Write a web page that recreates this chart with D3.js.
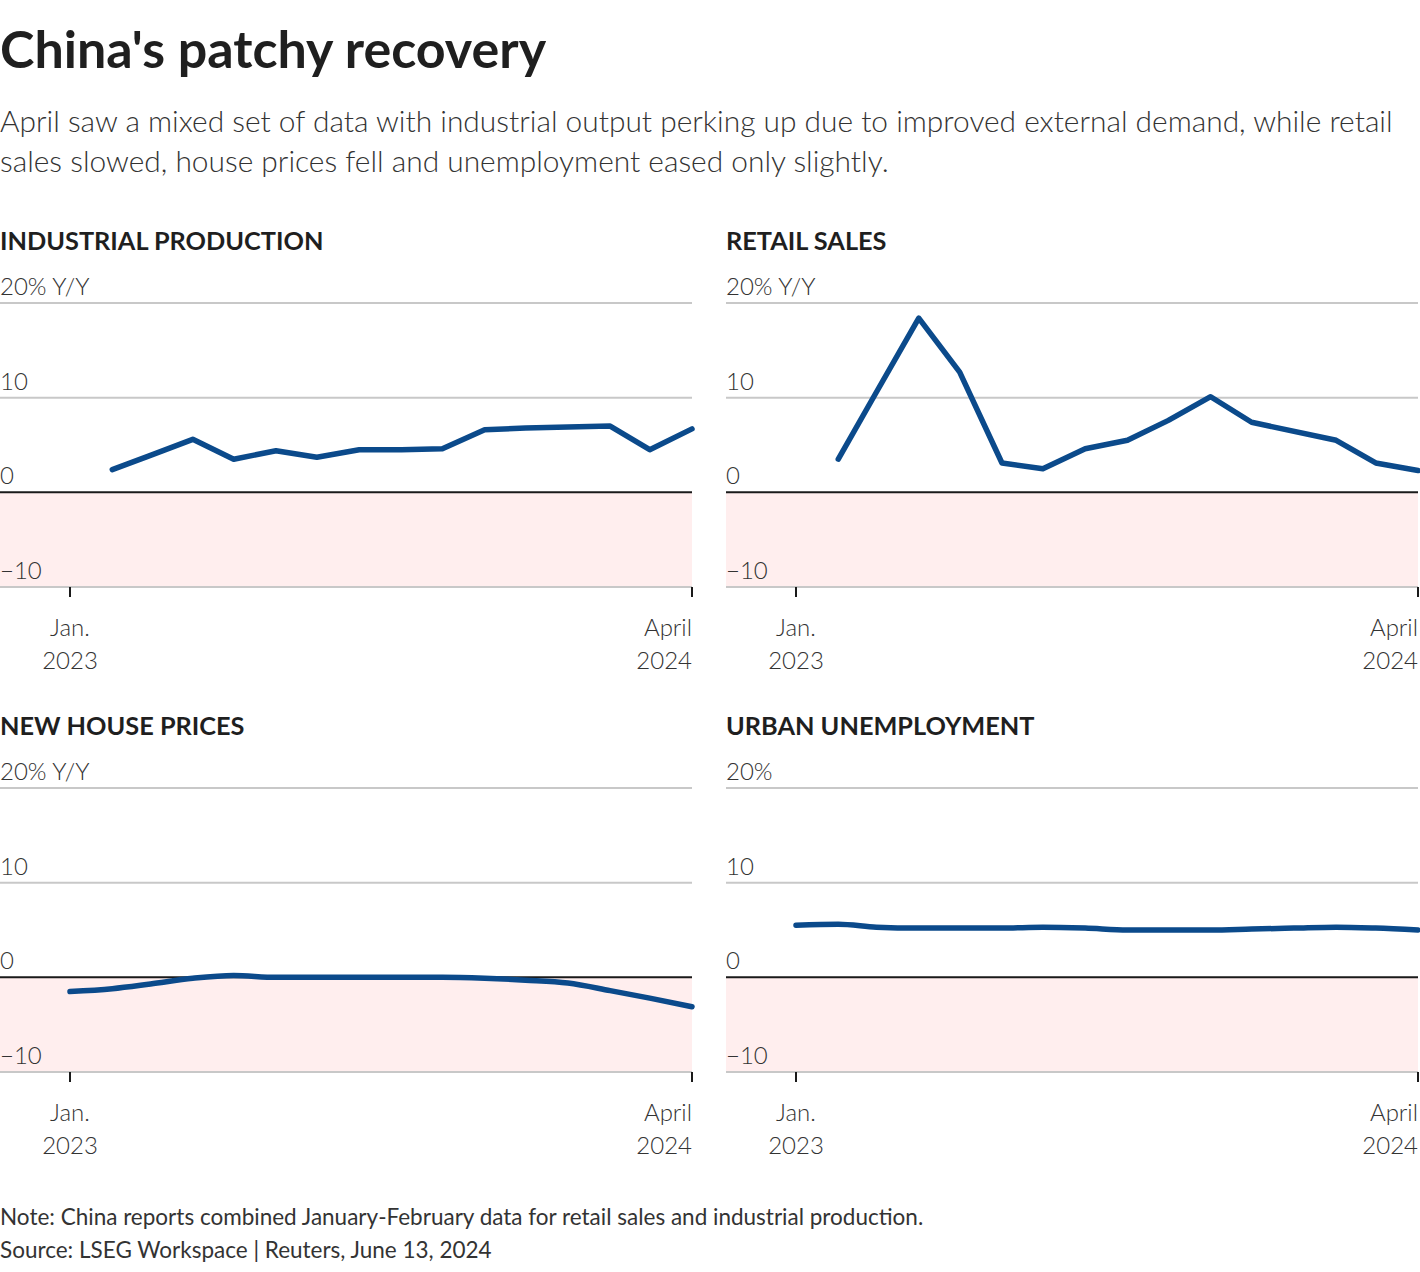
<!DOCTYPE html>
<html>
<head>
<meta charset="utf-8">
<script src="https://cdn.jsdelivr.net/npm/d3@7"></script>
<style>
  body { margin: 0; background: #fff; }
  svg { font-family: "Source Sans Pro", Lato, "Noto Sans", sans-serif; }
</style>
</head>
<body>
<div id="chart"></div>
<script>
// monthly values, Jan 2023 .. Apr 2024 (null = not reported)
const months = ["2023-01", "2023-02", "2023-03", "2023-04", "2023-05", "2023-06", "2023-07", "2023-08",
  "2023-09", "2023-10", "2023-11", "2023-12", "2024-01", "2024-02", "2024-03", "2024-04"];
const industrialProduction = [null, 2.4, 3.9, 5.6, 3.5, 4.4, 3.7, 4.5, 4.5, 4.6, 6.6, 6.8, null, 7.0, 4.5, 6.7];
const retailSales = [null, 3.5, 10.6, 18.4, 12.7, 3.1, 2.5, 4.6, 5.5, 7.6, 10.1, 7.4, null, 5.5, 3.1, 2.3];
const newHousePrices = [-1.5, -1.2, -0.7, -0.1, 0.2, 0.0, 0.0, 0.0, 0.0, 0.0, -0.1, -0.3, -0.6, -1.4, -2.2, -3.1];
const urbanUnemployment = [5.5, 5.6, 5.3, 5.2, 5.2, 5.2, 5.3, 5.2, 5.0, 5.0, 5.0, 5.1, 5.2, 5.3, 5.2, 5.0];

const panelTitles = ["INDUSTRIAL PRODUCTION", "RETAIL SALES", "NEW HOUSE PRICES", "URBAN UNEMPLOYMENT"];
const topLabels = ["20% Y/Y", "20% Y/Y", "20% Y/Y", "20%"];
const yTicks = [-10, 0, 10, 20];
const xTicks = ["2023-01", "2024-04"];
const xTickLabels = [["Jan.", "2023"], ["April", "2024"]];

const W = 1420, H = 1272;
const parse = d3.timeParse("%Y-%m");

const svg = d3.select("#chart").append("svg")
    .attr("width", W)
    .attr("height", H);

svg.append("text")
    .attr("x", 0).attr("y", 68)
    .attr("font-size", 52).attr("font-weight", 700)
    .attr("fill", "#1f1f1f")
    .text("China's patchy recovery");

const subtitle = [
  "April saw a mixed set of data with industrial output perking up due to improved external demand, while retail",
  "sales slowed, house prices fell and unemployment eased only slightly."
];
svg.append("g").selectAll("text")
    .data(subtitle)
    .enter().append("text")
    .attr("x", 0).attr("y", (d, i) => 132 + i * 40)
    .attr("font-size", 29.9).attr("font-weight", 300)
    .attr("fill", "#333")
    .text((d) => d);

const series = [industrialProduction, retailSales, newHousePrices, urbanUnemployment];
const smooth = [false, false, true, true];
const panelW = 692;

const x = d3.scaleTime()
    .domain([parse("2023-01"), parse("2024-04")])
    .range([70, panelW]);

const y = d3.scaleLinear()
    .domain([-10, 20])
    .range([284, 0]);

series.forEach(function (values, i) {
  const col = i % 2, row = Math.floor(i / 2);
  const g = svg.append("g")
      .attr("transform", "translate(" + (col * 726) + "," + (303 + row * 485) + ")");

  // title sits above the plot
  g.append("text")
      .attr("x", 0).attr("y", -53)
      .attr("font-size", 25.3).attr("font-weight", 700)
      .attr("fill", "#1f1f1f")
      .text(panelTitles[i]);

  // negative zone
  g.append("rect")
      .attr("x", 0).attr("width", panelW)
      .attr("y", y(0)).attr("height", y(-10) - y(0))
      .attr("fill", "#ffeeee");

  g.selectAll(".grid")
      .data(yTicks)
      .enter().append("line")
      .attr("x1", 0).attr("x2", panelW)
      .attr("y1", (d) => y(d)).attr("y2", (d) => y(d))
      .attr("stroke", (d) => d === 0 ? "#1a1a1a" : "#c8c8c8")
      .attr("stroke-width", 2);

  g.selectAll(".ylab")
      .data(yTicks)
      .enter().append("text")
      .attr("x", 0).attr("y", (d) => y(d) - 8)
      .attr("font-size", 24).attr("font-weight", 300)
      .attr("fill", "#333")
      .text((d) => d === 20 ? topLabels[i] : (d < 0 ? "\u2212" + Math.abs(d) : d));

  // x ticks
  xTicks.forEach(function (t, k) {
    const tx = x(parse(t));
    g.append("line")
        .attr("x1", tx).attr("x2", tx)
        .attr("y1", y(-10)).attr("y2", y(-10) + 10)
        .attr("stroke", "#1a1a1a").attr("stroke-width", 2);
    g.selectAll(null)
        .data(xTickLabels[k])
        .enter().append("text")
        .attr("x", tx)
        .attr("y", (d, j) => y(-10) + 49 + j * 33)
        .attr("text-anchor", k === 0 ? "middle" : "end")
        .attr("font-size", 24).attr("font-weight", 300)
        .attr("fill", "#333")
        .text((d) => d);
  });

  const pts = months.map((m, j) => ({ date: parse(m), value: values[j] }))
      .filter((d) => d.value !== null);

  const line = d3.line()
      .x((d) => x(d.date))
      .y((d) => y(d.value))
      .curve(smooth[i] ? d3.curveMonotoneX : d3.curveLinear);

  g.append("path")
      .datum(pts)
      .attr("d", line)
      .attr("fill", "none")
      .attr("stroke", "#0b4a8b")
      .attr("stroke-width", 5.5)
      .attr("stroke-linejoin", "round")
      .attr("stroke-linecap", "round");
});

svg.append("text")
    .attr("x", 0).attr("y", 1225)
    .attr("font-size", 22.5).attr("fill", "#333")
    .text("Note: China reports combined January-February data for retail sales and industrial production.");

svg.append("text")
    .attr("x", 0).attr("y", 1258)
    .attr("font-size", 22.5).attr("fill", "#333")
    .text("Source: LSEG Workspace | Reuters, June 13, 2024");
</script>
</body>
</html>
